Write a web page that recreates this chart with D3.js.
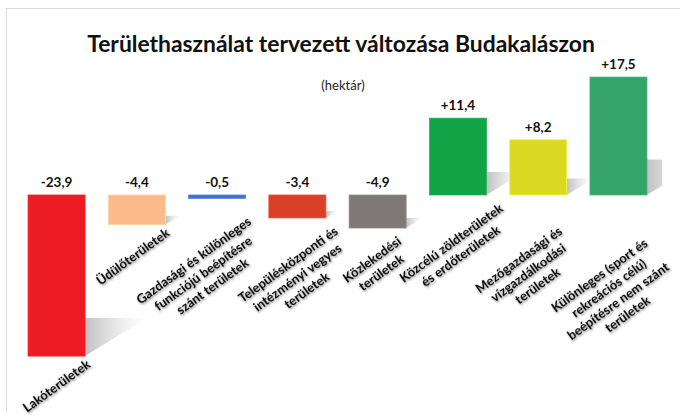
<!DOCTYPE html>
<html>
<head>
<meta charset="utf-8">
<script src="https://cdn.jsdelivr.net/npm/d3@7"></script>
<style>
  body { margin: 0; background: #fff; }
  svg { display: block; font-family: Lato, "Open Sans", sans-serif; }
</style>
</head>
<body>
<svg class="main" width="680" height="417"></svg>
<script>
(function () {
  'use strict';

  // data
  const categories = [
    ["Lakóterületek"],
    ["Üdülőterületek"],
    ["Gazdasági és különleges", "funkciójú beépítésre", "szánt területek"],
    ["Településközponti és", "intézményi vegyes", "területek"],
    ["Közlekedési", "területek"],
    ["Közcélú zöldterületek", "és erdőterületek"],
    ["Mezőgazdasági és", "vízgazdálkodási", "területek"],
    ["Különleges (sport és", "rekreációs célú)", "beépítésre nem szánt", "területek"]
  ];
  const values = [-23.9, -4.4, -0.5, -3.4, -4.9, 11.4, 8.2, 17.5];
  const colors = ["#ED1C24", "#FBBA8A", "#4472C4", "#D84027", "#7F7878", "#12A347", "#D9D823", "#35A36A"];
  // the axis labels were nudged by hand in the original (px)
  const labelDrop = [-2, -2, 13, 3, 3, 3, 26, 36];
  const labelShift = [0, -4, -14, 0, -1, -2, -10, -5];

  const title = "Területhasználat tervezett változása Budakalászon";
  const subtitle = "(hektár)";

  const svg = d3.select("svg.main");
  const W = 680;
  const angle = 36;

  const fmt = d3.formatLocale({ decimal: ",", thousands: " ", grouping: [3], currency: ["", ""], minus: "-" })
    .format("+.1f");

  const x = d3.scaleBand()
    .domain(d3.range(values.length))
    .range([16, 659])
    .paddingInner(0.29)
    .paddingOuter(0.15);

  const y = d3.scaleLinear()
    .domain([-25, 20])
    .range([363.5, 60.2]);

  // frame (only top + left visible in the picture)
  svg.append("line").attr("x1", 6).attr("x2", W).attr("y1", 8.5).attr("y2", 8.5)
    .attr("stroke", "#d9d9d9");
  svg.append("line").attr("x1", 6.5).attr("x2", 6.5).attr("y1", 8).attr("y2", 412)
    .attr("stroke", "#d9d9d9");

  const defs = svg.append("defs");
  const grad = defs.append("linearGradient").attr("id", "shadow");
  grad.append("stop").attr("offset", 0).attr("stop-color", "#a6a6a6").attr("stop-opacity", 0.7);
  grad.append("stop").attr("offset", 1).attr("stop-color", "#d0d0d0").attr("stop-opacity", 0);

  const blur = defs.append("filter").attr("id", "txtshadow")
    .attr("x", "-10%").attr("y", "-30%").attr("width", "130%").attr("height", "180%");
  blur.append("feDropShadow").attr("dx", 1).attr("dy", 1.2).attr("stdDeviation", 1)
    .attr("flood-color", "#000").attr("flood-opacity", 0.5);

  defs.append("clipPath").attr("id", "plotclip")
    .append("rect").attr("x", 8).attr("y", 10).attr("width", 654).attr("height", 400);

  // title
  const t = svg.append("text")
    .attr("x", 341).attr("y", 52)
    .attr("text-anchor", "middle")
    .attr("font-weight", "bold")
    .attr("font-size", 21)
    .attr("fill", "#111")
    .text(title);
  const tl = t.node().getComputedTextLength();
  t.attr("font-size", 21 * 508 / tl);

  svg.append("text")
    .attr("x", 343).attr("y", 90)
    .attr("text-anchor", "middle")
    .attr("font-size", 13)
    .attr("fill", "#222")
    .text(subtitle);

  const bars = values.map((v, i) => ({ v, i, cat: categories[i], color: colors[i] }));

  // shadows first, so the next bar covers the tail
  const plot = svg.append("g").attr("clip-path", "url(#plotclip)");
  bars.forEach(d => {
    const g = plot.append("g");
    const x1 = x(d.i) + x.bandwidth();
    const yb = Math.max(y(0), y(d.v));
    const h = Math.abs(y(d.v) - y(0));
    const sh = Math.min(38, h * 0.3);
    const len = sh * 62 / 38;
    g.append("path")
      .attr("d", d3.line()([[x1, yb], [x1, yb - sh], [x1 + len, yb - sh]]) + "Z")
      .attr("fill", "url(#shadow)");
    g.append("rect")
      .attr("x", x(d.i))
      .attr("y", Math.min(y(0), y(d.v)))
      .attr("width", x.bandwidth())
      .attr("height", h)
      .attr("fill", d.color)
      .attr("stroke", d3.color(d.color).brighter(0.4))
      .attr("stroke-width", 0.8);
  });

  // value labels
  svg.append("g").selectAll("text")
    .data(bars)
    .join("text")
    .attr("x", d => x(d.i) + x.bandwidth() / 2)
    .attr("y", d => Math.min(y(0), y(d.v)) - 8)
    .attr("text-anchor", "middle")
    .attr("font-weight", "bold")
    .attr("font-size", 13.5)
    .attr("fill", "#111")
    .text(d => fmt(d.v));

  // rotated category labels, block top touches the bar end
  const lh = 16;
  const sin = Math.sin(angle * Math.PI / 180);
  const cos = Math.cos(angle * Math.PI / 180);
  const labels = svg.append("g")
    .attr("font-weight", "bold")
    .attr("font-size", 12.9)
    .attr("fill", "#111")
    .attr("filter", "url(#txtshadow)");

  bars.forEach(d => {
    const g = labels.append("g");
    const n = d.cat.length;
    let wmax = 0;
    d.cat.forEach((line, k) => {
      const tx = g.append("text")
        .attr("text-anchor", "middle")
        .attr("x", 0)
        .attr("y", (k - (n - 1) / 2) * lh)
        .attr("dy", "0.35em")
        .text(line);
      wmax = Math.max(wmax, tx.node().getComputedTextLength());
    });
    const cx = x(d.i) + x.bandwidth() / 2 + labelShift[d.i];
    const yb = Math.max(y(0), y(d.v));
    const cy = yb + 2 + (wmax / 2) * sin + (n * lh / 2) * cos + labelDrop[d.i];
    g.attr("transform", `translate(${cx}, ${cy}) rotate(${-angle})`);
  });
}());
</script>
</body>
</html>
